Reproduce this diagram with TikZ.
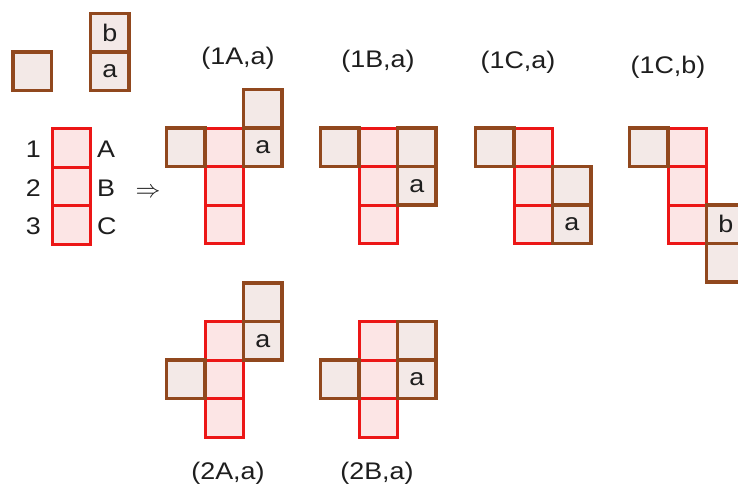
\documentclass[tikz,border=0pt]{standalone}
\usepackage{fontspec}
\setmainfont[FakeStretch=1.12]{Liberation Sans}
\definecolor{brn}{RGB}{145,72,30}
\definecolor{brnfill}{RGB}{243,233,231}
\definecolor{redc}{RGB}{236,22,22}
\definecolor{redfill}{RGB}{252,229,229}
\definecolor{txt}{RGB}{30,30,30}
\newcommand\labfont{\fontsize{24}{28}\selectfont}
\newcommand\cellat[5]{\node[#1] (#2) at ({#3+19.25},{#4+19.25}) {#5};}
\tikzset{
  cellbase/.style={rectangle, minimum width=38.5pt, minimum height=38.5pt,
    inner sep=0pt, outer sep=0pt, font=\labfont, text=txt},
  redcell/.style={cellbase, draw=redc, fill=redfill, line width=3pt},
  browncell/.style={cellbase, draw=brn, fill=brnfill, line width=3.5pt},
  lab/.style={font=\labfont, text=txt, inner sep=0pt, anchor=base},
  rlab/.style={lab, anchor=base east},
  llab/.style={lab, anchor=base west}
}
\begin{document}
\begin{tikzpicture}[x=1pt,y=-1pt]
\useasboundingbox (0,0) rectangle (738,487);
\fill[white] (0,0) rectangle (738,487);
% pieces
\cellat{browncell}{single}{12.75}{52}{}
\cellat{browncell}{domb}{90.5}{13.5}{b}
\cellat{browncell}{doma}{90.5}{52}{a}
% red column with labels
\cellat{redcell}{k1}{52}{128.5}{}
\cellat{redcell}{k2}{52}{167}{}
\cellat{redcell}{k3}{52}{205.5}{}
\node[rlab] (n1) at (41,157) {1};
\node[rlab] (n2) at (41,196) {2};
\node[rlab] (n3) at (41,234) {3};
\node[llab] (lA) at (97,157) {A};
\node[llab] (lB) at (97,196) {B};
\node[llab] (lC) at (97,234) {C};
\node[inner sep=0pt, text=txt, font=\fontsize{26}{28}\selectfont] (arr) at (148,193) {$\Rightarrow$};
% (1A,a)
\cellat{redcell}{p1r1}{205}{128}{}
\cellat{redcell}{p1r2}{205}{166.5}{}
\cellat{redcell}{p1r3}{205}{205}{}
\cellat{browncell}{p1l}{166.5}{128}{}
\cellat{browncell}{p1a}{243.5}{128}{a}
\cellat{browncell}{p1t}{243.5}{89.5}{}
\node[lab] (t1) at (238,64) {(1A,a)};
% (1B,a)
\cellat{redcell}{p2r1}{359}{128}{}
\cellat{redcell}{p2r2}{359}{166.5}{}
\cellat{redcell}{p2r3}{359}{205}{}
\cellat{browncell}{p2l}{320.5}{128}{}
\cellat{browncell}{p2t}{397.5}{128}{}
\cellat{browncell}{p2a}{397.5}{166.5}{a}
\node[lab] (t2) at (378,67) {(1B,a)};
% (1C,a)
\cellat{redcell}{p3r1}{514}{128}{}
\cellat{redcell}{p3r2}{514}{166.5}{}
\cellat{redcell}{p3r3}{514}{205}{}
\cellat{browncell}{p3l}{475.5}{128}{}
\cellat{browncell}{p3m}{552.5}{166.5}{}
\cellat{browncell}{p3a}{552.5}{205}{a}
\node[lab] (t3) at (518,68) {(1C,a)};
% (1C,b)
\cellat{redcell}{p4r1}{668}{128}{}
\cellat{redcell}{p4r2}{668}{166.5}{}
\cellat{redcell}{p4r3}{668}{205}{}
\cellat{browncell}{p4l}{629.5}{128}{}
\cellat{browncell}{p4b}{706.5}{205}{b}
\cellat{browncell}{p4d}{706.5}{243.5}{}
\node[lab] (t4) at (668,73) {(1C,b)};
% (2A,a)
\cellat{redcell}{p5r1}{205}{321.5}{}
\cellat{redcell}{p5r2}{205}{360}{}
\cellat{redcell}{p5r3}{205}{398.5}{}
\cellat{browncell}{p5t}{243.5}{283}{}
\cellat{browncell}{p5a}{243.5}{321.5}{a}
\cellat{browncell}{p5l}{166.5}{360}{}
\node[lab] (t5) at (228,479) {(2A,a)};
% (2B,a)
\cellat{redcell}{p6r1}{359}{321.5}{}
\cellat{redcell}{p6r2}{359}{360}{}
\cellat{redcell}{p6r3}{359}{398.5}{}
\cellat{browncell}{p6t}{397.5}{321.5}{}
\cellat{browncell}{p6a}{397.5}{360}{a}
\cellat{browncell}{p6l}{320.5}{360}{}
\node[lab] (t6) at (377,479) {(2B,a)};
\end{tikzpicture}
\end{document}
